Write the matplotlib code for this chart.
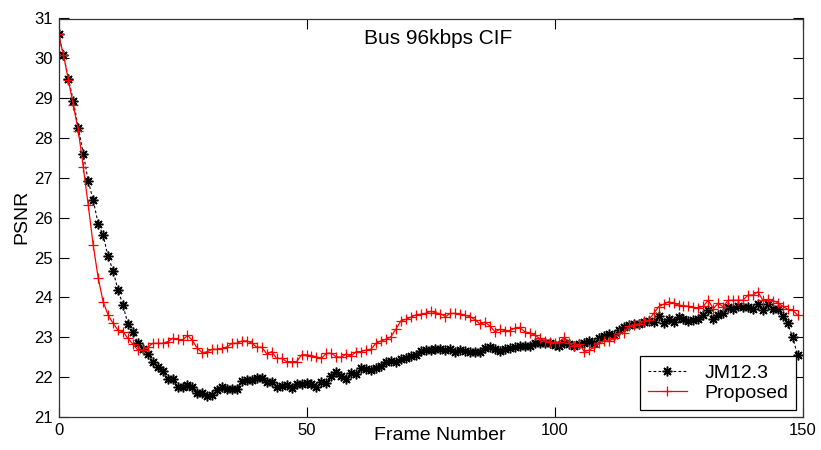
import matplotlib
matplotlib.use("Agg")
import matplotlib.pyplot as plt

plt.rcParams['font.family'] = ['Liberation Sans', 'DejaVu Sans']

frames = list(range(150))

jm123 = [30.60, 30.09, 29.49, 28.93, 28.24, 27.61, 26.92, 26.44, 25.85, 25.56,
         25.03, 24.67, 24.18, 23.81, 23.33, 23.14, 22.85, 22.70, 22.58, 22.39,
         22.25, 22.15, 21.95, 21.95, 21.76, 21.76, 21.80, 21.76, 21.60, 21.60,
         21.53, 21.56, 21.68, 21.75, 21.70, 21.70, 21.70, 21.91, 21.93, 21.93,
         21.97, 21.99, 21.89, 21.89, 21.75, 21.77, 21.81, 21.72, 21.83, 21.83,
         21.85, 21.83, 21.75, 21.89, 21.85, 22.04, 22.14, 22.04, 21.95, 22.11,
         22.08, 22.22, 22.20, 22.18, 22.22, 22.27, 22.37, 22.41, 22.39, 22.45,
         22.47, 22.53, 22.56, 22.66, 22.68, 22.68, 22.70, 22.70, 22.68, 22.70,
         22.64, 22.68, 22.66, 22.62, 22.62, 22.64, 22.72, 22.75, 22.70, 22.66,
         22.70, 22.72, 22.76, 22.79, 22.78, 22.79, 22.85, 22.85, 22.86, 22.86,
         22.80, 22.78, 22.86, 22.82, 22.77, 22.83, 22.86, 22.90, 22.85, 22.97,
         23.03, 23.08, 23.06, 23.18, 23.26, 23.30, 23.33, 23.33, 23.39, 23.41,
         23.39, 23.54, 23.37, 23.47, 23.39, 23.52, 23.47, 23.40, 23.43, 23.47,
         23.56, 23.68, 23.47, 23.56, 23.62, 23.77, 23.70, 23.78, 23.77, 23.77,
         23.72, 23.83, 23.68, 23.83, 23.72, 23.70, 23.53, 23.35, 23.01, 22.56]

proposed = [30.60, 30.09, 29.45, 28.82, 28.18, 27.27, 26.31, 25.31, 24.49, 23.89,
            23.56, 23.35, 23.18, 23.14, 22.97, 22.83, 22.68, 22.68, 22.75, 22.85,
            22.85, 22.85, 22.89, 22.97, 22.95, 22.93, 23.05, 22.92, 22.72, 22.61,
            22.64, 22.70, 22.70, 22.72, 22.76, 22.85, 22.85, 22.91, 22.91, 22.85,
            22.75, 22.75, 22.58, 22.64, 22.47, 22.47, 22.39, 22.39, 22.39, 22.56,
            22.56, 22.54, 22.51, 22.47, 22.60, 22.60, 22.51, 22.50, 22.58, 22.53,
            22.64, 22.64, 22.68, 22.70, 22.85, 22.91, 22.95, 23.01, 23.20, 23.41,
            23.45, 23.50, 23.56, 23.58, 23.60, 23.65, 23.62, 23.59, 23.52, 23.60,
            23.60, 23.59, 23.55, 23.52, 23.44, 23.33, 23.38, 23.28, 23.14, 23.20,
            23.17, 23.17, 23.23, 23.25, 23.14, 23.10, 23.06, 22.97, 22.91, 22.89,
            22.86, 22.89, 23.00, 22.85, 22.77, 22.83, 22.64, 22.68, 22.75, 22.86,
            22.91, 22.91, 22.97, 23.11, 23.10, 23.28, 23.32, 23.33, 23.41, 23.43,
            23.60, 23.77, 23.83, 23.89, 23.85, 23.81, 23.79, 23.78, 23.75, 23.74,
            23.78, 23.93, 23.72, 23.85, 23.77, 23.93, 23.93, 23.93, 23.93, 24.06,
            24.06, 24.14, 23.93, 23.95, 23.92, 23.87, 23.78, 23.70, 23.68, 23.56]

xticks = [0, 50, 100, 150]
yticks = list(range(21, 32))

W, H = 821, 450
fig = plt.figure(figsize=(W / 100, H / 100), dpi=100)
ax = fig.add_axes([58.5 / W, 1 - 417 / H, (802.5 - 58.5) / W, (417 - 18.5) / H])

ax.plot(frames, jm123, color='black', linestyle=(0, (2.5, 2)), linewidth=0.8,
        marker=(8, 2, 0), markersize=7, markeredgewidth=1.1, label='JM12.3')
ax.plot(frames, proposed, color='red', linestyle='-', linewidth=0.9,
        marker='+', markersize=7, markeredgewidth=0.9, label='Proposed')

ax.set_xlim(0, 150)
ax.set_ylim(21, 31)
ax.set_xticks(xticks)
ax.set_yticks(yticks)
ax.tick_params(direction='in', top=True, right=True, length=7, width=0.8,
               labelsize=12, pad=4)
for s in ax.spines.values():
    s.set_linewidth(0.9)
    s.set_color('#333333')

fig.text(438 / W, 1 - 38 / H, 'Bus 96kbps CIF', ha='center', va='center', fontsize=15)
fig.text(440 / W, 1 - 436 / H, 'Frame Number', ha='center', va='center', fontsize=14)
fig.text(22 / W, 1 - 217 / H, 'PSNR', ha='center', va='center', rotation=90, fontsize=14)

leg = ax.legend(loc='lower right', bbox_to_anchor=(796 / W, 1 - 410 / H),
                bbox_transform=fig.transFigure, borderaxespad=0, fancybox=False,
                edgecolor='black', framealpha=1, fontsize=14, borderpad=0.4,
                labelspacing=0.15, handlelength=2.0, handletextpad=0.9)
leg.get_frame().set_linewidth(0.9)

fig.savefig('out.png', dpi=100)
